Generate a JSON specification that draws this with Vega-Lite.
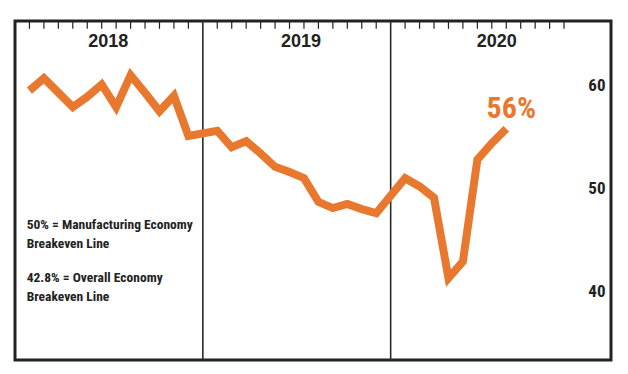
{
  "$schema": "https://vega.github.io/schema/vega-lite/v6.json",
  "width": 596,
  "height": 339,
  "autosize": "none",
  "padding": {"left": 15, "top": 21, "right": 17, "bottom": 14},
  "background": "white",
  "config": {
    "view": {"stroke": "#222222", "strokeWidth": 3},
    "axis": {"grid": false}
  },
  "datasets": {
    "pmi": [
      {"year": 2018, "month": 1, "t": 1, "v": 59.5},
      {"year": 2018, "month": 2, "t": 2, "v": 60.7},
      {"year": 2018, "month": 3, "t": 3, "v": 59.3},
      {"year": 2018, "month": 4, "t": 4, "v": 57.9},
      {"year": 2018, "month": 5, "t": 5, "v": 58.9},
      {"year": 2018, "month": 6, "t": 6, "v": 60.1},
      {"year": 2018, "month": 7, "t": 7, "v": 57.9},
      {"year": 2018, "month": 8, "t": 8, "v": 61.0},
      {"year": 2018, "month": 9, "t": 9, "v": 59.3},
      {"year": 2018, "month": 10, "t": 10, "v": 57.5},
      {"year": 2018, "month": 11, "t": 11, "v": 59.0},
      {"year": 2018, "month": 12, "t": 12, "v": 55.1},
      {"year": 2019, "month": 1, "t": 14, "v": 55.6},
      {"year": 2019, "month": 2, "t": 15, "v": 54.0},
      {"year": 2019, "month": 3, "t": 16, "v": 54.6},
      {"year": 2019, "month": 4, "t": 17, "v": 53.4},
      {"year": 2019, "month": 5, "t": 18, "v": 52.1},
      {"year": 2019, "month": 6, "t": 19, "v": 51.6},
      {"year": 2019, "month": 7, "t": 20, "v": 51.0},
      {"year": 2019, "month": 8, "t": 21, "v": 48.7},
      {"year": 2019, "month": 9, "t": 22, "v": 48.1},
      {"year": 2019, "month": 10, "t": 23, "v": 48.5},
      {"year": 2019, "month": 11, "t": 24, "v": 48.0},
      {"year": 2019, "month": 12, "t": 25, "v": 47.6},
      {"year": 2020, "month": 1, "t": 27, "v": 51.0},
      {"year": 2020, "month": 2, "t": 28, "v": 50.2},
      {"year": 2020, "month": 3, "t": 29, "v": 49.1},
      {"year": 2020, "month": 4, "t": 30, "v": 41.3},
      {"year": 2020, "month": 5, "t": 31, "v": 42.9},
      {"year": 2020, "month": 6, "t": 32, "v": 52.8},
      {"year": 2020, "month": 7, "t": 33, "v": 54.4},
      {"year": 2020, "month": 8, "t": 34, "v": 55.8}
    ],
    "dividers": [{"t": 13}, {"t": 26}],
    "ticks": [
      {"t": 1}, {"t": 2}, {"t": 3}, {"t": 4}, {"t": 5}, {"t": 6}, {"t": 7}, {"t": 8}, {"t": 9}, {"t": 10}, {"t": 11}, {"t": 12},
      {"t": 14}, {"t": 15}, {"t": 16}, {"t": 17}, {"t": 18}, {"t": 19}, {"t": 20}, {"t": 21}, {"t": 22}, {"t": 23}, {"t": 24}, {"t": 25},
      {"t": 27}, {"t": 28}, {"t": 29}, {"t": 30}, {"t": 31}, {"t": 32}, {"t": 33}, {"t": 34}, {"t": 35}, {"t": 36}, {"t": 37}, {"t": 38}
    ],
    "years": [
      {"label": "2018", "t": 6.45, "v": 64.2},
      {"label": "2019", "t": 19.8, "v": 64.2},
      {"label": "2020", "t": 33.35, "v": 64.2}
    ],
    "notes": [
      {"text": ["50% = Manufacturing Economy", "Breakeven Line"], "t": 0.81, "v": 46.04},
      {"text": ["42.8% = Overall Economy", "Breakeven Line"], "t": 0.81, "v": 40.95}
    ],
    "callout": [{"label": "56%", "t": 34.35, "v": 56.82}]
  },
  "layer": [
    {
      "data": {"name": "dividers"},
      "mark": {"type": "rule", "color": "#2a2a2a", "strokeWidth": 1.6},
      "encoding": {
        "x": {"field": "t", "type": "quantitative", "scale": {"domain": [0, 41.25], "nice": false, "zero": false}, "axis": null}
      }
    },
    {
      "data": {"name": "ticks"},
      "mark": {"type": "rule", "color": "#222222", "strokeWidth": 1.2},
      "encoding": {
        "x": {"field": "t", "type": "quantitative", "axis": null},
        "y": {"datum": 66.26, "type": "quantitative"},
        "y2": {"datum": 65.5}
      }
    },
    {
      "mark": {"type": "rule", "color": "#222222", "strokeWidth": 1.5},
      "encoding": {
        "x": {"datum": 0, "type": "quantitative", "axis": null},
        "x2": {"datum": 39.6},
        "y": {"datum": 50, "type": "quantitative",
          "scale": {"domain": [33.35, 66.26], "nice": false, "zero": false},
          "axis": {"orient": "right", "values": [40, 50, 60], "title": null, "domain": false, "ticks": false, "tickSize": 0,
            "labelAlign": "right", "labelPadding": -6, "labelFont": "Roboto Condensed, DejaVu Sans Condensed, sans-serif", "labelFontWeight": "bold",
            "labelFontSize": 17, "labelColor": "#222222", "labelBaseline": "middle"}}
      }
    },
    {
      "mark": {"type": "rule", "color": "#a0a0a0", "strokeWidth": 1.5, "strokeDash": [13, 7]},
      "encoding": {
        "x": {"datum": 0, "type": "quantitative", "axis": null},
        "x2": {"datum": 41.25},
        "y": {"datum": 42.8, "type": "quantitative"}
      }
    },
    {
      "mark": {"type": "rule", "color": "#333333", "strokeWidth": 0.7},
      "encoding": {
        "x": {"datum": 5.31, "type": "quantitative", "axis": null},
        "x2": {"datum": 6.57},
        "y": {"datum": 42.05, "type": "quantitative"},
        "y2": {"datum": 42.7}
      }
    },
    {
      "data": {"name": "pmi"},
      "mark": {"type": "line", "color": "#E9782F", "strokeWidth": 8, "strokeJoin": "miter", "strokeCap": "butt"},
      "encoding": {
        "x": {"field": "t", "type": "quantitative", "axis": null},
        "y": {"field": "v", "type": "quantitative"}
      }
    },
    {
      "data": {"name": "years"},
      "mark": {"type": "text", "font": "Liberation Sans", "fontSize": 18, "fontWeight": "bold", "color": "#222222", "align": "center", "baseline": "middle"},
      "encoding": {
        "x": {"field": "t", "type": "quantitative", "axis": null},
        "y": {"field": "v", "type": "quantitative"},
        "text": {"field": "label"}
      }
    },
    {
      "data": {"name": "notes"},
      "mark": {"type": "text", "font": "Roboto Condensed, DejaVu Sans Condensed, sans-serif", "fontSize": 13.5, "fontWeight": "bold", "color": "#222222", "align": "left", "baseline": "alphabetic", "lineHeight": 19},
      "encoding": {
        "x": {"field": "t", "type": "quantitative", "axis": null},
        "y": {"field": "v", "type": "quantitative"},
        "text": {"field": "text"}
      }
    },
    {
      "data": {"name": "callout"},
      "mark": {"type": "text", "font": "Roboto Condensed, DejaVu Sans Condensed, sans-serif", "fontSize": 30, "fontWeight": "bold", "color": "#E9782F", "align": "center", "baseline": "alphabetic"},
      "encoding": {
        "x": {"field": "t", "type": "quantitative", "axis": null},
        "y": {"field": "v", "type": "quantitative"},
        "text": {"field": "label"}
      }
    }
  ]
}
